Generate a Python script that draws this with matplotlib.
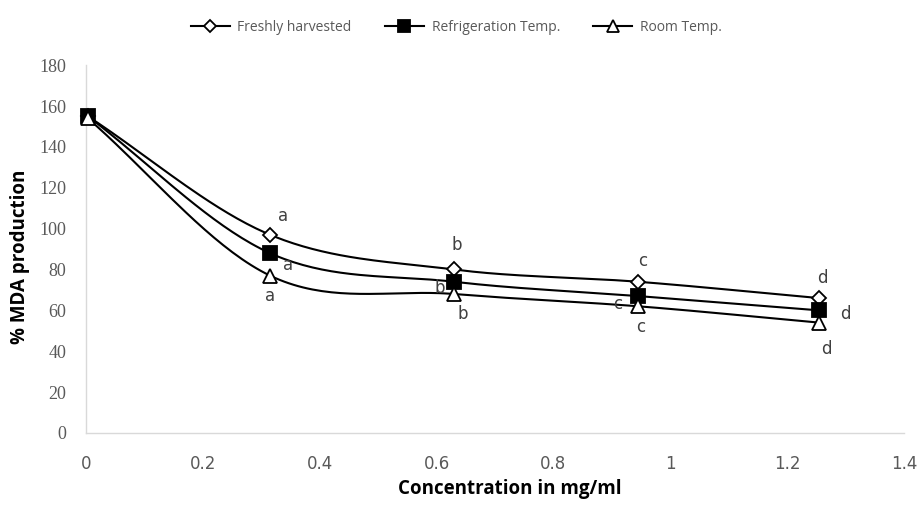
import numpy as np
import matplotlib.pyplot as plt
from matplotlib.lines import Line2D

# data
conc = [0.003, 0.315, 0.63, 0.945, 1.255]
fresh = [155, 97, 80, 74, 66]
refrig = [155, 88, 74, 67, 60]
room = [154, 77, 68, 62, 54]

# significance letters (x, y, letter)
letters_x = [0.337, 0.346, 0.315, 0.634, 0.606, 0.644, 0.952, 0.91, 0.949, 1.26, 1.30, 1.267]
letters_y = [106, 82, 67, 92, 71, 58, 84, 63, 52, 76, 58, 41]
letters = ['a', 'a', 'a', 'b', 'b', 'b', 'c', 'c', 'c', 'd', 'd', 'd']


def smooth(x, y, n=40):
    # Catmull-Rom style smoothing like Excel's "smoothed line"
    x = np.asarray(x, float)
    y = np.asarray(y, float)
    px = np.concatenate([[2 * x[0] - x[1]], x, [2 * x[-1] - x[-2]]])
    py = np.concatenate([[2 * y[0] - y[1]], y, [2 * y[-1] - y[-2]]])
    xs, ys = [], []
    t = np.linspace(0, 1, n)
    for i in range(1, len(px) - 2):
        p0 = np.array([px[i - 1], py[i - 1]])
        p1 = np.array([px[i], py[i]])
        p2 = np.array([px[i + 1], py[i + 1]])
        p3 = np.array([px[i + 2], py[i + 2]])
        c1 = p1 + (p2 - p0) / 6
        c2 = p2 - (p3 - p1) / 6
        b = ((1 - t) ** 3)[:, None] * p1 + (3 * (1 - t) ** 2 * t)[:, None] * c1 \
            + (3 * (1 - t) * t ** 2)[:, None] * c2 + (t ** 3)[:, None] * p2
        xs.append(b[:, 0])
        ys.append(b[:, 1])
    return np.concatenate(xs), np.concatenate(ys)


fig = plt.figure(figsize=(9.18, 5.13), dpi=100)
ax = fig.add_axes([0.0937, 0.156, 0.891, 0.717])

series = [
    (fresh, 'D', 'white', 7, 'Freshly harvested'),
    (refrig, 's', 'black', 10, 'Refrigeration Temp.'),
    (room, '^', 'white', 10, 'Room Temp.'),
]
for vals, mk, fc, ms, lab in series:
    sx, sy = smooth(conc, vals)
    ax.plot(sx, sy, color='black', lw=1.5, zorder=2, clip_on=False)
    ax.plot(conc, vals, ls='none', marker=mk, ms=ms, mfc=fc, mec='black', mew=1.3, zorder=3,
            clip_on=False)

for lx, ly, s in zip(letters_x, letters_y, letters):
    ax.text(lx, ly, s, fontsize=12, color='#404040', ha='center', va='center',
            family='DejaVu Sans')

ax.set_xlim(0, 1.4)
ax.set_ylim(0, 180)
ax.set_xticks(np.arange(0, 1.41, 0.2))
ax.set_xticklabels(['0', '0.2', '0.4', '0.6', '0.8', '1', '1.2', '1.4'],
                   family='DejaVu Sans', fontsize=12, color='#595959')
ax.set_yticks(np.arange(0, 181, 20))
ax.set_yticklabels([str(v) for v in range(0, 181, 20)],
                   family='Liberation Serif', fontsize=13, color='#595959')
ax.tick_params(length=0, pad=16, axis='x')
ax.tick_params(length=0, pad=14, axis='y')
for sp in ['top', 'right']:
    ax.spines[sp].set_visible(False)
for sp in ['left', 'bottom']:
    ax.spines[sp].set_color('#d9d9d9')
    ax.spines[sp].set_linewidth(1)

ax.set_ylabel('% MDA production', fontsize=13.5, fontweight='bold', family='Open Sans')
ax.yaxis.set_label_coords(-0.068, 0.478)
ax.set_xlabel('Concentration in mg/ml', fontsize=13.5, fontweight='bold', family='Open Sans')
ax.xaxis.set_label_coords(0.518, -0.125)

handles = [Line2D([], [], color='black', lw=1.5, marker=mk, ms=ms * 0.85, mfc=fc, mec='black', mew=1.3)
           for _, mk, fc, ms, _ in series]
fig.legend(handles, [s[4] for s in series], loc='upper center', bbox_to_anchor=(0.497, 0.985),
           ncol=3, frameon=False, prop={'family': 'Open Sans', 'size': 10},
           labelcolor='#595959', handlelength=2.8, handletextpad=0.55, columnspacing=2.4)

plt.savefig('out.png', dpi=100)
